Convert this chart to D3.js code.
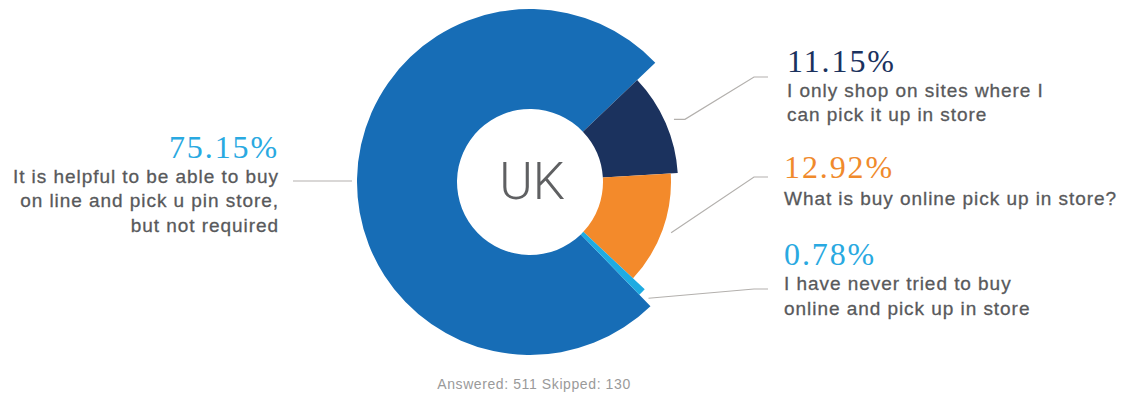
<!DOCTYPE html>
<html>
<head>
<meta charset="utf-8">
<script src="https://cdn.jsdelivr.net/npm/d3@7"></script>
<style>
  html, body { margin: 0; padding: 0; background: #fff; }
  svg { display: block; }
</style>
</head>
<body>
<svg id="chart" width="1131" height="394"></svg>
<script>
// Survey answers (UK): category text and their shares in percent
const categories = [
  "It is helpful to be able to buy on line and pick u pin store, but not required",
  "I only shop on sites where I can pick it up in store",
  "What is buy online pick up in store?",
  "I have never tried to buy online and pick up in store"
];
const shares = [75.15, 11.15, 12.92, 0.78];
const labelLines = [
  ["It is helpful to be able to buy", "on line and pick u pin store,", "but not required"],
  ["I only shop on sites where I", "can pick it up in store"],
  ["What is buy online pick up in store?"],
  ["I have never tried to buy", "online and pick up in store"]
];
const centerLabel = "UK";
const footnote = "Answered: 511 Skipped: 130";

// Styling
const sliceColors = ["#176db6", "#1b325e", "#f38a2b", "#1eabe2"];
const pctColors = ["#29a9e1", "#1b325e", "#f08a2c", "#29a9e1"];
const outerRadii = [173, 148, 141, 157];
const innerRadius = 73;
const cx = 530, cy = 182;
const firstSliceEndDeg = 46.4; // where the large slice ends, clockwise from 12 o'clock

const svg = d3.select("#chart");
const g = svg.append("g").attr("transform", `translate(${cx},${cy})`);

const total = d3.sum(shares);
const rad = d => d * Math.PI / 180;
const start = rad(firstSliceEndDeg) - shares[0] / total * 2 * Math.PI;

const pie = d3.pie().sort(null).value(d => d)
  .startAngle(start).endAngle(start + 2 * Math.PI);
const arcs = pie(shares);

const arc = d3.arc()
  .innerRadius(innerRadius)
  .outerRadius(d => outerRadii[d.index]);

g.selectAll("path.slice")
  .data(arcs)
  .join("path")
  .attr("class", "slice")
  .attr("d", arc)
  .attr("fill", (d, i) => sliceColors[i]);

// Centre label
g.append("text")
  .attr("x", 2).attr("y", 17)
  .attr("text-anchor", "middle")
  .attr("font-family", "Roboto, 'Liberation Sans', sans-serif")
  .attr("font-weight", 300)
  .attr("font-size", 51)
  .attr("fill", "#5f6062")
  .text(centerLabel);

// Label blocks: anchor x, percent baseline, first text baseline, leader y
const labelLayout = [
  { x: 279, pctY: 158, textY: 182.5, side: "left", lineY: 181 },
  { x: 787, pctY: 72, textY: 96.5, side: "right", lineY: 77, stub: 11 },
  { x: 784, pctY: 177.5, textY: 204.5, side: "right", lineY: 177 },
  { x: 784, pctY: 264.5, textY: 290, side: "right", lineY: 289 }
];
const lineStep = 24.6;
const fmt = d3.format(".2f");

const labels = svg.append("g");
arcs.forEach((d, i) => {
  const L = labelLayout[i];
  const anchor = L.side === "left" ? "end" : "start";
  labels.append("text")
    .attr("x", L.x).attr("y", L.pctY)
    .attr("text-anchor", anchor)
    .attr("font-family", "'Liberation Serif', 'DejaVu Serif', serif")
    .attr("font-size", 32)
    .attr("letter-spacing", 1.9)
    .attr("fill", pctColors[i])
    .text(fmt(shares[i]) + "%");
  labelLines[i].forEach((line, j) => {
    labels.append("text")
      .attr("x", L.x).attr("y", L.textY + j * lineStep)
      .attr("text-anchor", anchor)
      .attr("font-family", "'Liberation Sans', Arial, sans-serif")
      .attr("font-size", 19)
      .attr("letter-spacing", 0.95)
      .attr("fill", "#58595b")
      .attr("stroke", "#58595b")
      .attr("stroke-width", 0.3)
      .text(line);
  });

  // Leader line from the slice to its label
  const mid = (d.startAngle + d.endAngle) / 2;
  const r = outerRadii[i] + (L.side === "left" ? 5 : 9);
  const sx = cx + r * Math.sin(mid), sy = cy - r * Math.cos(mid);
  let pts;
  if (L.side === "left") {
    pts = [[sx, L.lineY], [293, L.lineY]];
  } else {
    const stub = L.stub || 0;
    if (Math.abs(sy - L.lineY) < 4) {
      pts = [[sx, L.lineY], [768, L.lineY]];
    } else {
      pts = [[sx, sy], [sx + stub, sy], [754, L.lineY], [768, L.lineY]];
    }
  }
  labels.append("path")
    .attr("d", d3.line()(pts))
    .attr("fill", "none")
    .attr("stroke", "#b3b0ad")
    .attr("stroke-width", 1.2);
});

// Footnote
svg.append("text")
  .attr("x", 534).attr("y", 389)
  .attr("text-anchor", "middle")
  .attr("font-family", "'Liberation Sans', Arial, sans-serif")
  .attr("font-size", 14)
  .attr("letter-spacing", 0.6)
  .attr("fill", "#9a9a9a")
  .text(footnote);
</script>
</body>
</html>
